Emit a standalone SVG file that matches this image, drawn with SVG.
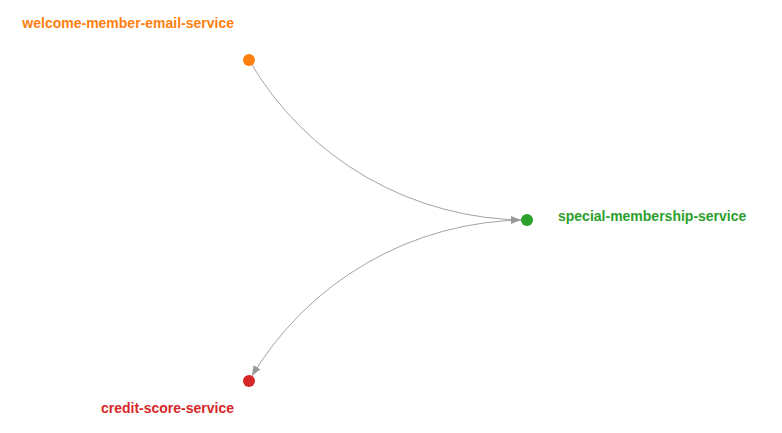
<svg xmlns="http://www.w3.org/2000/svg" width="782" height="433" viewBox="0 0 782 433">
<style>
.link{fill:none;stroke:#999;stroke-width:1;stroke-opacity:0.9}
.lbl{font-family:"Liberation Sans",Arial,sans-serif;font-size:14px;font-weight:bold}
</style>
<defs>
<marker id="arrow" viewBox="0 -5 10 10" refX="16" refY="0" markerWidth="10" markerHeight="10" markerUnits="userSpaceOnUse" orient="auto">
<path d="M0,-4L10,0L0,4Z" fill="#999"/>
</marker>
</defs>
<rect width="782" height="433" fill="#fff"/>
<g id="links">
<path class="link" d="M249,60A320.8,320.8 0 0,0 527,220" marker-end="url(#arrow)"/>
<path class="link" d="M527,220A321.2,321.2 0 0,0 249,381" marker-end="url(#arrow)"/>
</g>
<g id="welcome-member-email-service">
<circle cx="249" cy="60" r="6" fill="#ff7f0e"/>
<text class="lbl" x="234" y="28" text-anchor="end" fill="#ff7f0e">welcome-member-email-service</text>
</g>
<g id="special-membership-service">
<circle cx="527" cy="220" r="6" fill="#2ca02c"/>
<text class="lbl" x="558" y="221" fill="#2ca02c">special-membership-service</text>
</g>
<g id="credit-score-service">
<circle cx="249" cy="381" r="6" fill="#d62728"/>
<text class="lbl" x="234" y="413" text-anchor="end" fill="#d62728">credit-score-service</text>
</g>
</svg>
